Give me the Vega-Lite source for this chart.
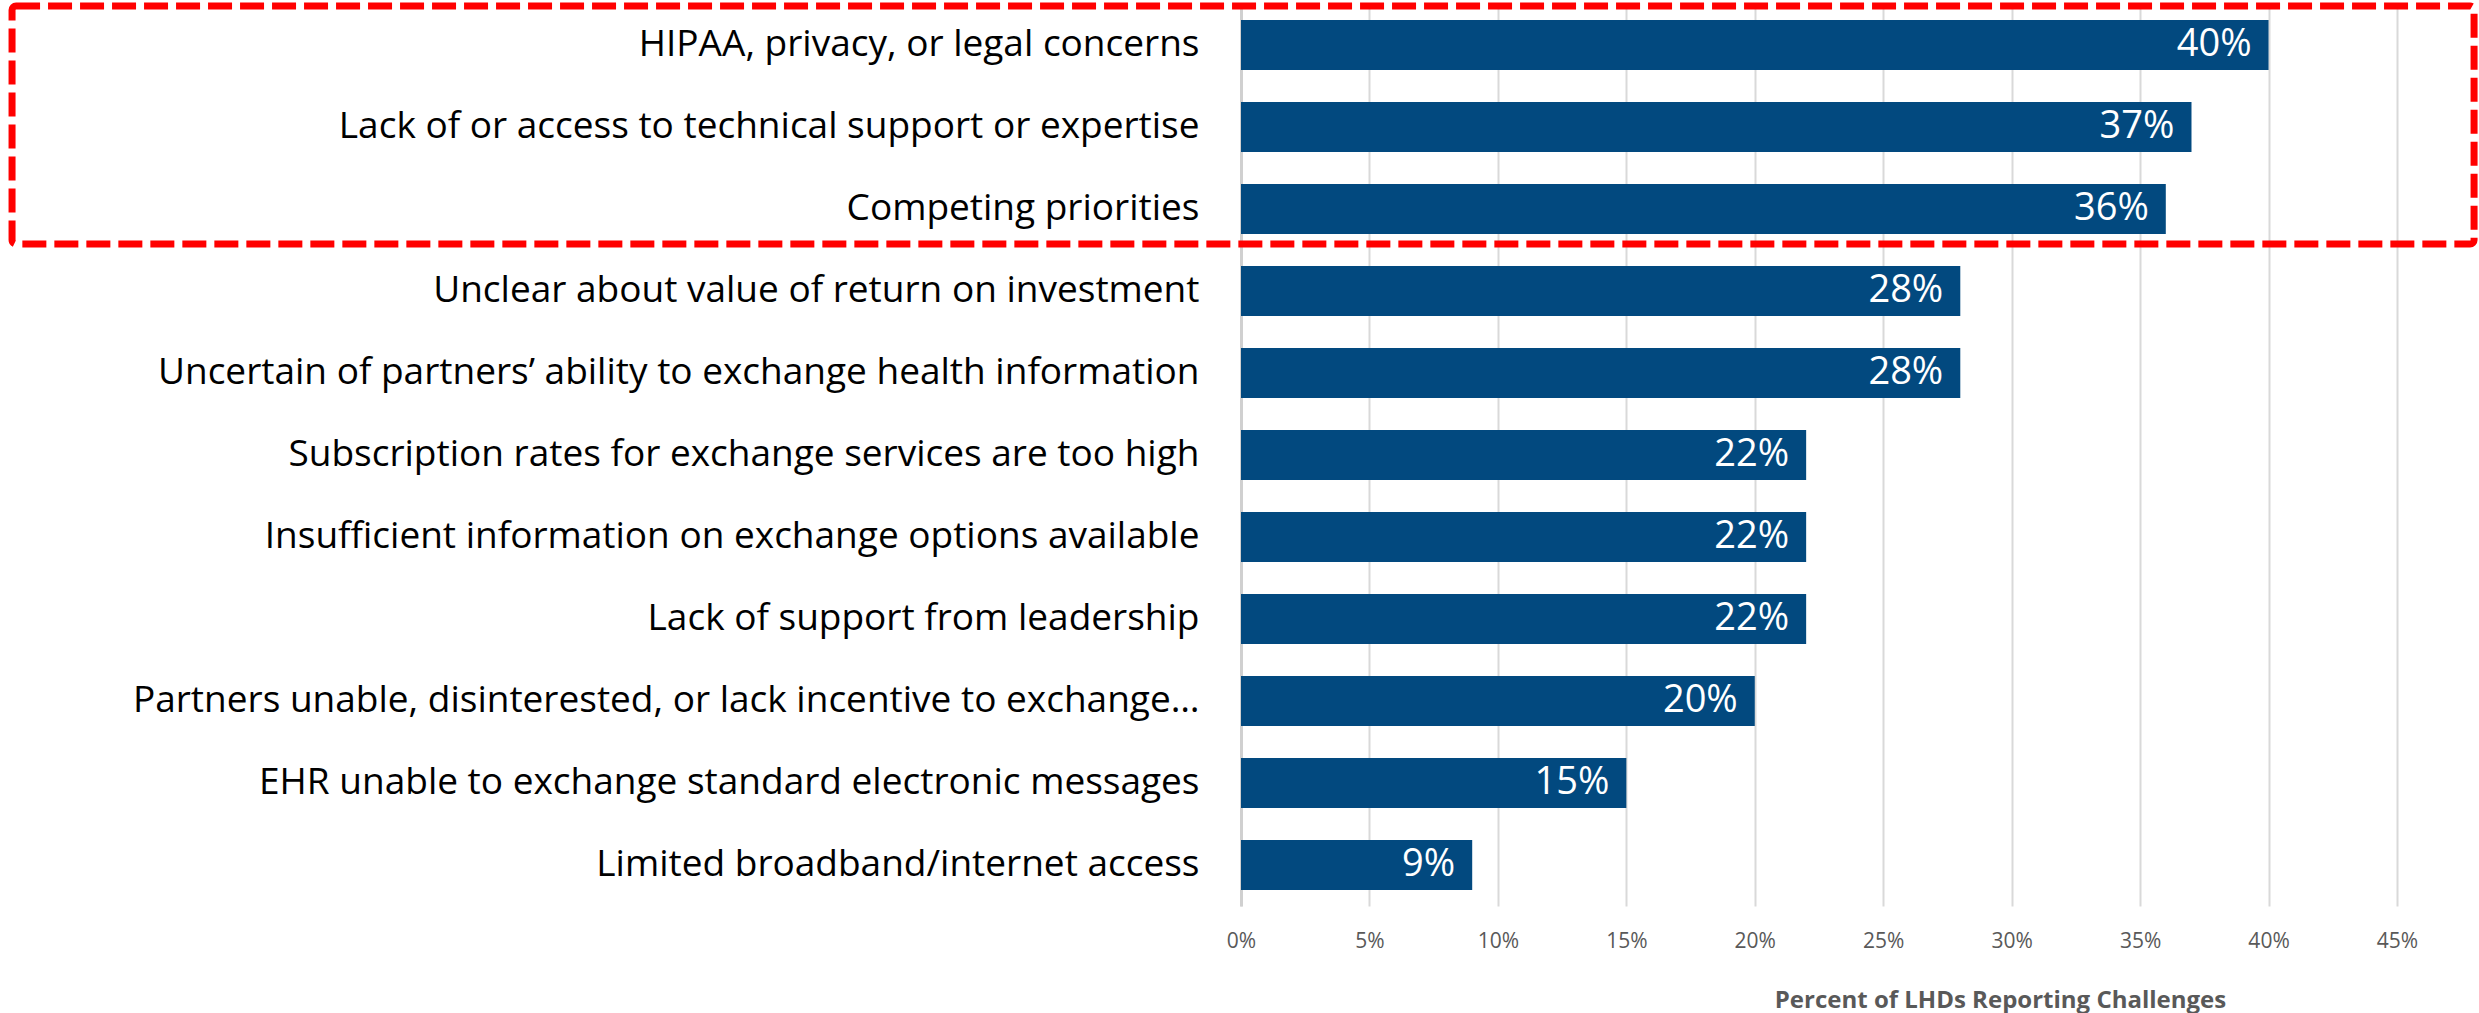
{
  "$schema": "https://vega.github.io/schema/vega-lite/v6.json",
  "autosize": {"type": "none"},
  "width": 1156,
  "height": 902,
  "padding": {"left": 1241, "top": 4, "right": 82, "bottom": 107},
  "background": "white",
  "config": {
    "view": {"stroke": null},
    "font": "Open Sans, sans-serif"
  },
  "datasets": {
    "challenges": [
      {"challenge": "HIPAA, privacy, or legal concerns", "share": 0.40},
      {"challenge": "Lack of or access to technical support or expertise", "share": 0.37},
      {"challenge": "Competing priorities", "share": 0.36},
      {"challenge": "Unclear about value of return on investment", "share": 0.28},
      {"challenge": "Uncertain of partners’ ability to exchange health information", "share": 0.28},
      {"challenge": "Subscription rates for exchange services are too high", "share": 0.22},
      {"challenge": "Insufficient information on exchange options available\u00a0", "share": 0.22},
      {"challenge": "Lack of support from leadership\u00a0", "share": 0.22},
      {"challenge": "Partners unable, disinterested, or lack incentive to exchange…", "share": 0.20},
      {"challenge": "EHR unable to exchange standard electronic messages", "share": 0.15},
      {"challenge": "Limited broadband/internet access", "share": 0.09}
    ],
    "highlight": [
      {"first": "HIPAA, privacy, or legal concerns", "last": "Competing priorities", "left": -0.4784, "right": 0.48}
    ]
  },
  "layer": [
    {
      "data": {"name": "challenges"},
      "mark": {"type": "bar", "color": "#02497F"},
      "encoding": {
        "y": {
          "field": "challenge",
          "type": "nominal",
          "sort": null,
          "scale": {"paddingInner": 0.39, "paddingOuter": 0.195},
          "axis": {
            "title": null,
            "ticks": false,
            "domainColor": "#D0D0D0",
            "domainWidth": 3,
            "labelFontSize": 37,
            "labelColor": "#000000",
            "labelPadding": 42,
            "labelLimit": 1200
          }
        },
        "x": {
          "field": "share",
          "type": "quantitative",
          "scale": {"domain": [0, 0.45], "nice": false},
          "axis": {
            "values": [0, 0.05, 0.1, 0.15, 0.2, 0.25, 0.3, 0.35, 0.4, 0.45],
            "format": ".0%",
            "domain": false,
            "ticks": false,
            "grid": true,
            "gridColor": "#D9D9D9",
            "gridWidth": 2,
            "labelFlush": false,
            "labelOverlap": false,
            "labelFontSize": 21,
            "labelColor": "#595959",
            "labelPadding": 24,
            "title": "Percent of LHDs Reporting Challenges",
            "titleFontSize": 24,
            "titleFontWeight": "bold",
            "titleColor": "#595959",
            "titleX": 759,
            "titleY": 101,
            "titleAlign": "center",
            "titleBaseline": "alphabetic"
          }
        }
      }
    },
    {
      "data": {"name": "challenges"},
      "mark": {"type": "text", "align": "right", "baseline": "middle", "dx": -17, "fontSize": 38, "color": "white"},
      "encoding": {
        "y": {"field": "challenge", "type": "nominal", "sort": null},
        "x": {"field": "share", "type": "quantitative"},
        "text": {"field": "share", "type": "quantitative", "format": ".0%"}
      }
    },
    {
      "data": {"name": "highlight"},
      "mark": {
        "type": "rect",
        "fill": null,
        "stroke": "#FF0000",
        "strokeWidth": 7,
        "strokeDash": [24, 8],
        "cornerRadius": 4,
        "yOffset": -14,
        "y2Offset": 10
      },
      "encoding": {
        "y": {"field": "first", "type": "nominal", "sort": null, "bandPosition": 0},
        "y2": {"field": "last", "bandPosition": 1},
        "x": {"field": "left", "type": "quantitative"},
        "x2": {"field": "right"}
      }
    }
  ]
}
